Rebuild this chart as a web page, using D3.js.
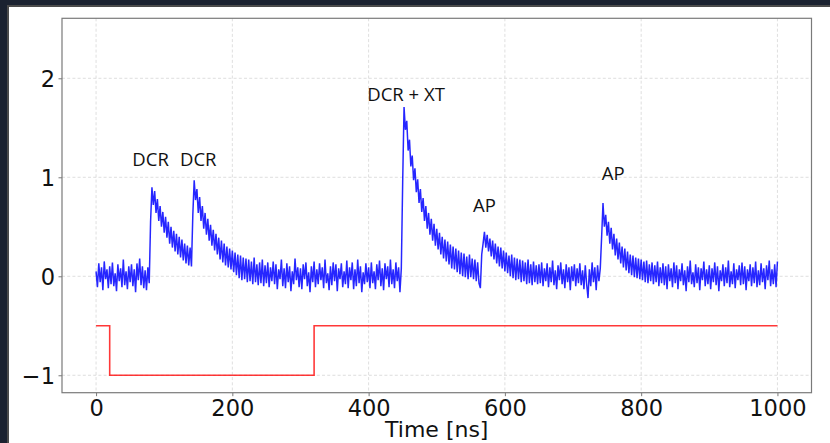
<!DOCTYPE html>
<html>
<head>
<meta charset="utf-8">
<script src="https://cdn.jsdelivr.net/npm/d3@7"></script>
<style>
  html, body { margin: 0; padding: 0; background: #1b2230; }
  svg { display: block; }
</style>
</head>
<body>
<svg id="chart" width="830" height="443"></svg>
<script>
// ---------------- DATA ----------------
const xTicks = [0, 200, 400, 600, 800, 1000];
const yTicks = [-1, 0, 1, 2];
const xLabel = "Time [ns]";

// blue trace: one sample every 2 ns from 0 to 1000 ns
const traceStart = 0;
const traceStep = 2;
const traceValues = [
  0.05,-0.11,0.13,-0.06,0.09,-0.14,0.15,-0.03,0.07,-0.12,0.10,-0.08,0.14,-0.10,0.03,-0.15,0.12,-0.05,0.08,-0.11,0.17,-0.09,0.05,-0.13,0.10,
  -0.06,0.12,-0.10,0.07,-0.16,0.13,-0.04,0.18,-0.09,0.10,-0.12,0.06,-0.14,0.09,-0.07,0.55,0.90,0.72,0.86,0.64,0.78,0.56,0.71,0.50,0.65,
  0.44,0.60,0.39,0.55,0.33,0.50,0.29,0.46,0.25,0.43,0.22,0.40,0.19,0.37,0.16,0.33,0.13,0.31,0.11,0.29,0.10,0.62,0.97,0.77,0.88,
  0.64,0.80,0.56,0.71,0.48,0.64,0.42,0.58,0.36,0.52,0.31,0.47,0.26,0.43,0.22,0.39,0.17,0.36,0.14,0.33,0.11,0.30,0.09,0.28,0.07,
  0.26,0.04,0.24,0.01,0.22,-0.02,0.21,-0.04,0.19,-0.03,0.18,-0.06,0.17,-0.05,0.15,-0.08,0.19,-0.06,0.12,-0.09,0.14,-0.07,0.17,-0.10,0.11,
  -0.07,0.14,-0.11,0.09,-0.05,0.15,-0.08,0.12,-0.13,0.07,-0.03,0.17,-0.10,0.08,-0.12,0.13,-0.06,0.10,-0.15,0.05,-0.08,0.18,-0.04,0.09,-0.11,
  0.08,-0.13,0.12,-0.03,0.14,-0.10,0.04,-0.16,0.10,-0.06,0.15,-0.11,0.07,-0.08,0.13,-0.04,0.09,-0.12,0.17,-0.07,0.03,-0.14,0.10,-0.09,0.14,
  -0.05,0.12,-0.15,0.08,-0.03,0.13,-0.11,0.05,-0.08,0.16,-0.12,0.09,-0.04,0.14,-0.13,0.07,-0.10,0.17,-0.07,0.10,-0.16,0.04,-0.08,0.13,-0.06,
  0.09,-0.12,0.14,-0.07,0.05,-0.13,0.12,-0.04,0.16,-0.10,0.08,-0.14,0.13,-0.03,0.10,-0.11,0.17,-0.08,0.07,-0.12,0.14,-0.05,0.09,-0.16,0.08,
  0.95,1.71,1.48,1.57,1.27,1.38,1.11,1.22,0.97,1.09,0.85,0.98,0.74,0.88,0.65,0.79,0.56,0.71,0.48,0.64,0.42,0.58,0.36,0.53,0.31,
  0.48,0.27,0.44,0.22,0.40,0.18,0.37,0.15,0.35,0.12,0.32,0.08,0.30,0.07,0.28,0.04,0.26,0.02,0.24,0.00,0.23,-0.01,0.20,-0.03,0.22,
  -0.01,0.18,-0.03,0.17,-0.05,0.14,-0.07,-0.12,0.22,0.33,0.45,0.29,0.42,0.25,0.38,0.20,0.36,0.17,0.33,0.13,0.30,0.10,0.29,0.08,0.26,
  0.05,0.24,0.03,0.21,0.00,0.22,-0.02,0.19,-0.04,0.18,-0.03,0.17,-0.06,0.16,-0.05,0.14,-0.08,0.17,-0.07,0.12,-0.09,0.15,-0.06,0.11,-0.08,
  0.12,-0.07,0.14,-0.10,0.08,-0.05,0.13,-0.11,0.09,-0.06,0.16,-0.09,0.06,-0.13,0.11,-0.04,0.14,-0.08,0.07,-0.12,0.12,-0.06,0.09,-0.14,0.10,
  -0.05,0.12,-0.10,0.08,-0.07,0.13,-0.09,0.06,-0.13,0.11,-0.08,-0.22,0.07,-0.10,0.14,-0.06,0.09,-0.14,0.11,-0.05,0.08,0.40,0.74,0.50,0.62,
  0.41,0.55,0.33,0.49,0.27,0.43,0.21,0.38,0.17,0.34,0.13,0.30,0.09,0.28,0.06,0.25,0.03,0.22,0.01,0.21,-0.01,0.19,-0.02,0.18,-0.03,
  0.17,-0.04,0.15,-0.06,0.16,-0.07,0.12,-0.05,0.14,-0.08,0.11,-0.06,0.15,-0.10,0.09,-0.07,0.13,-0.09,0.10,-0.13,0.12,-0.05,0.08,-0.11,0.14,
  -0.07,0.11,-0.13,0.07,-0.05,0.13,-0.09,0.06,-0.15,0.10,-0.06,0.16,-0.08,0.04,-0.11,0.12,-0.07,0.09,-0.14,0.08,-0.04,0.15,-0.10,0.07,-0.08,
  0.11,-0.13,0.08,-0.06,0.14,-0.09,0.10,-0.15,0.06,-0.05,0.12,-0.10,0.09,-0.07,0.16,-0.11,0.05,-0.08,0.13,-0.12,0.07,-0.04,0.11,-0.09,0.14,
  -0.08,0.10,-0.14,0.07,-0.05,0.12,-0.10,0.09,-0.07,0.15,-0.11,0.06,-0.09,0.13,-0.06,0.08,-0.13,0.11,-0.04,0.16,-0.10,0.07,-0.08,0.12,-0.11,
  0.15
];

// red gate signal (step changes)
const gateTimes  = [0, 20, 320, 1000];
const gateValues = [-0.5, -1, -0.5, -0.5];

// annotations
const annoLabels = ["DCR", "DCR", "DCR + XT", "AP", "AP"];
const annoX      = [80, 150, 455, 570, 759];
const annoY      = [1.115, 1.115, 1.77, 0.645, 0.97];

// ---------------- DRAW ----------------
const W = 830, H = 443;
const svg = d3.select("#chart");

// background frame
svg.append("rect").attr("x", 0).attr("y", 0).attr("width", W).attr("height", H).attr("fill", "#1b2230");
svg.append("rect").attr("x", 7).attr("y", 5).attr("width", W - 7).attr("height", H - 5).attr("fill", "#4b4b4b");
svg.append("rect").attr("x", 9).attr("y", 7).attr("width", W - 9).attr("height", H - 7).attr("fill", "#ffffff");

const plot = { left: 62, right: 811.5, top: 18.3, bottom: 392.7 };

const x = d3.scaleLinear().domain([-50, 1050]).range([plot.left, plot.right]);
const y = d3.scaleLinear().domain([-1.176, 2.606]).range([plot.bottom, plot.top]);

// grid
const grid = svg.append("g").attr("stroke", "#d6d6d6").attr("stroke-width", 0.8).attr("stroke-dasharray", "3,2.2");
grid.selectAll("line.gx").data(xTicks).join("line")
  .attr("x1", d => x(d)).attr("x2", d => x(d)).attr("y1", plot.top).attr("y2", plot.bottom);
grid.selectAll("line.gy").data(yTicks).join("line")
  .attr("y1", d => y(d)).attr("y2", d => y(d)).attr("x1", plot.left).attr("x2", plot.right);

// clip
svg.append("clipPath").attr("id", "clip").append("rect")
  .attr("x", plot.left).attr("y", plot.top).attr("width", plot.right - plot.left).attr("height", plot.bottom - plot.top);

// blue trace
const traceData = traceValues.map((v, i) => [traceStart + i * traceStep, v]);
const line = d3.line().x(d => x(d[0])).y(d => y(d[1]));
svg.append("path").attr("clip-path", "url(#clip)")
  .datum(traceData)
  .attr("d", line)
  .attr("fill", "none")
  .attr("stroke", "#0000ff")
  .attr("stroke-opacity", 0.85)
  .attr("stroke-width", 1.5)
  .attr("stroke-linejoin", "bevel");

// red gate
const gateData = gateTimes.map((t, i) => [t, gateValues[i]]);
svg.append("path").attr("clip-path", "url(#clip)")
  .datum(gateData)
  .attr("d", d3.line().curve(d3.curveStepAfter).x(d => x(d[0])).y(d => y(d[1])))
  .attr("fill", "none")
  .attr("stroke", "#ff0000")
  .attr("stroke-opacity", 0.78)
  .attr("stroke-width", 1.6);

// axes
const axisColor = "#7a7a7a";
const xAxis = d3.axisBottom(x).tickValues(xTicks).tickSize(3.5).tickPadding(3.5).tickFormat(d3.format("d"));
const yAxis = d3.axisLeft(y).tickValues(yTicks).tickSize(3.5).tickPadding(3.5).tickFormat(d => d < 0 ? "\u2212" + Math.abs(d) : String(d));

const gx = svg.append("g").attr("transform", `translate(0,${plot.bottom})`).call(xAxis);
const gy = svg.append("g").attr("transform", `translate(${plot.left},0)`).call(yAxis);
[gx, gy].forEach(g => {
  g.select(".domain").remove();
  g.selectAll(".tick line").attr("stroke", axisColor).attr("stroke-width", 1);
  g.selectAll(".tick text")
    .attr("fill", "#111")
    .style("font-family", "'DejaVu Sans', sans-serif")
    .style("font-size", "22.5px");
});
gx.selectAll(".tick text").attr("dy", "0.74em");
gy.selectAll(".tick text").attr("dy", "0.36em");

// frame
svg.append("rect")
  .attr("x", plot.left).attr("y", plot.top)
  .attr("width", plot.right - plot.left).attr("height", plot.bottom - plot.top)
  .attr("fill", "none").attr("stroke", axisColor).attr("stroke-width", 1.2);

// x label
svg.append("text")
  .attr("x", (plot.left + plot.right) / 2).attr("y", 437)
  .attr("text-anchor", "middle")
  .attr("fill", "#111")
  .style("font-family", "'DejaVu Sans', sans-serif")
  .style("font-size", "22px")
  .text(xLabel);

// annotations
svg.append("g").selectAll("text").data(annoLabels).join("text")
  .attr("x", (d, i) => x(annoX[i]))
  .attr("y", (d, i) => y(annoY[i]))
  .attr("text-anchor", "middle")
  .attr("fill", "#111")
  .style("font-family", "'Open Sans', sans-serif")
  .style("font-size", "18.5px")
  .text(d => d);
</script>
</body>
</html>
